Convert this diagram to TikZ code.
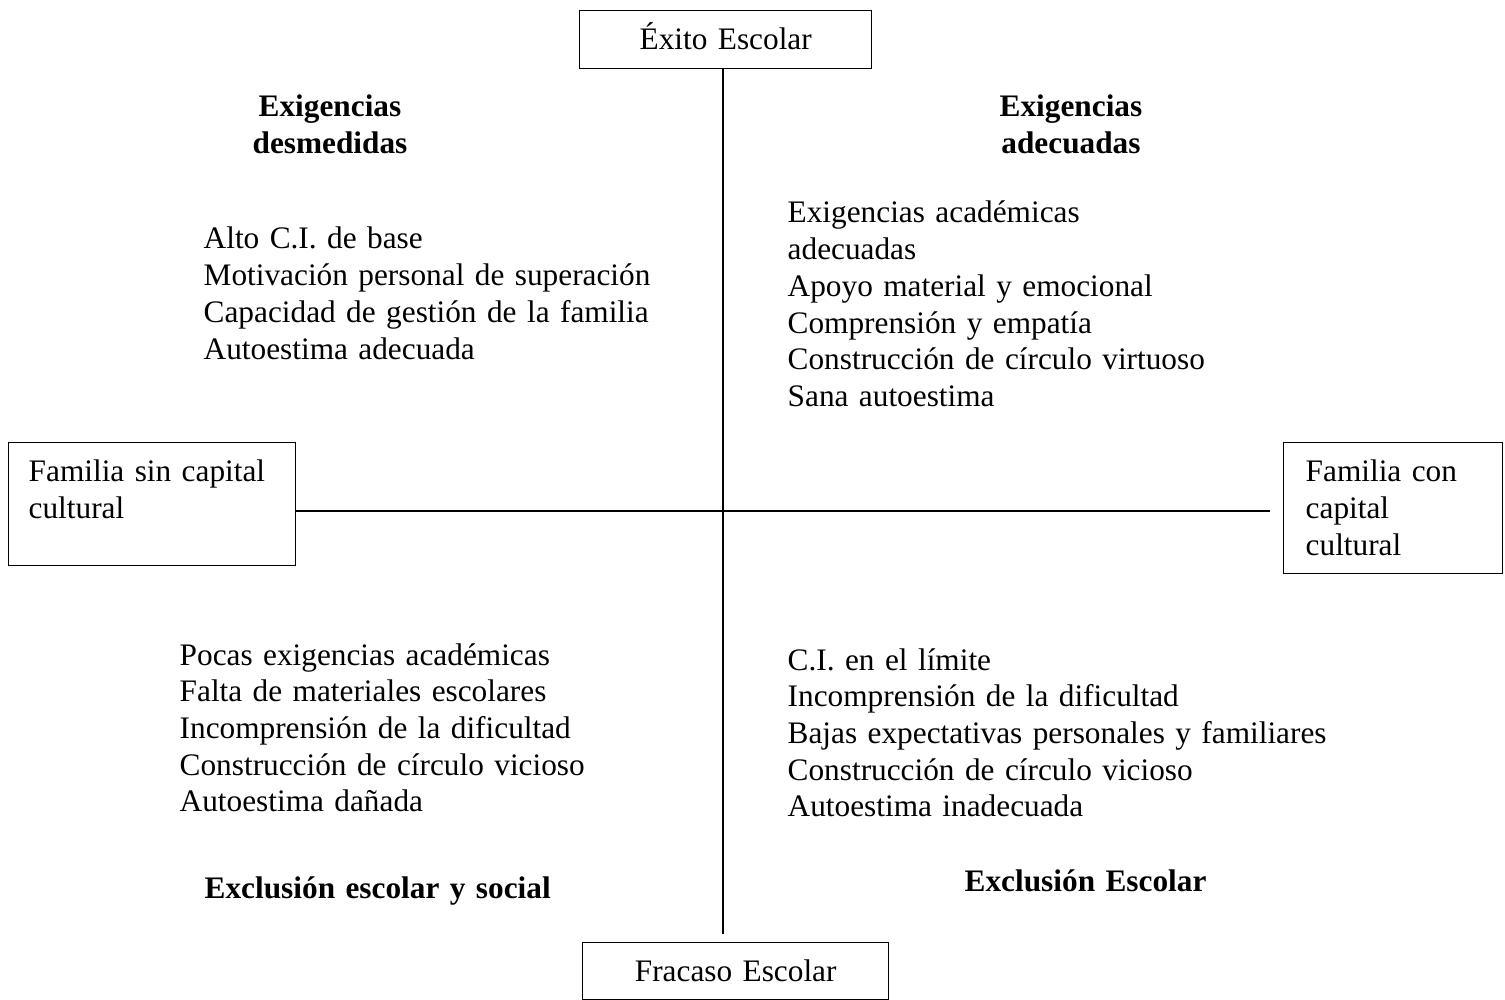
\documentclass[tikz,border=0pt]{standalone}
\usepackage{fontspec}
\setmainfont{Liberation Serif}
\tikzset{
  caja/.style={draw,anchor=north west,inner xsep=20pt,inner ysep=0pt,text height=39pt},
  lista/.style={anchor=base west,inner sep=0pt,text width=560pt,align=left},
  titulo/.style={anchor=base,inner sep=0pt,text width=300pt,align=center,
    font=\fontsize{31.3pt}{36.7pt}\selectfont\bfseries}
}
\begin{document}
\begin{tikzpicture}[x=1pt,y=-1pt,line width=1.4pt,font=\fontsize{31.3pt}{36.7pt}\selectfont]
\useasboundingbox (0,0) rectangle (1505,1000);

% cajas
\node[caja,text width=252pt,text depth=19pt,align=center] (exito) at (579,10) {Éxito Escolar};
\node[caja,text width=266pt,text depth=18pt,align=center] (fracaso) at (582,942) {Fracaso Escolar};
\node[caja,text width=247pt,text depth=84pt,align=left] (sincap) at (8,442) {Familia sin capital\\cultural};
\node[caja,inner xsep=22pt,text width=175pt,text depth=92pt,align=left] (concap) at (1283,442) {Familia con\\capital\\cultural};

% ejes
\coordinate (ejey) at (723,934);
\coordinate (ejex) at (1270,511);
\draw (exito.south -| ejey) -- (ejey);
\draw (sincap.east |- ejex) -- (ejex);

\node[titulo] (desmedidas) at (330,117) {Exigencias\\desmedidas};
\node[titulo] (adecuadas) at (1071,117) {Exigencias\\adecuadas};
\node[titulo,anchor=base west,text width=500pt,align=left] (exclsocial) at (204,898) {Exclusión escolar y social};
\node[titulo,anchor=base west,text width=500pt,align=left] (exclescolar) at (964,891) {Exclusión Escolar};

\node[lista] (altoci) at (203,249) {Alto C.I. de base\\Motivación personal de superación\\Capacidad de gestión de la familia\\Autoestima adecuada};
\node[lista] (apoyo) at (787,223) {Exigencias académicas\\adecuadas\\Apoyo material y emocional\\Comprensión y empatía\\Construcción de círculo virtuoso\\Sana autoestima};
\node[lista] (pocas) at (179,665) {Pocas exigencias académicas\\Falta de materiales escolares\\Incomprensión de la dificultad\\Construcción de círculo vicioso\\Autoestima dañada};
\node[lista] (limite) at (787,670) {C.I. en el límite\\Incomprensión de la dificultad\\Bajas expectativas personales y familiares\\Construcción de círculo vicioso\\Autoestima inadecuada};

\end{tikzpicture}
\end{document}
